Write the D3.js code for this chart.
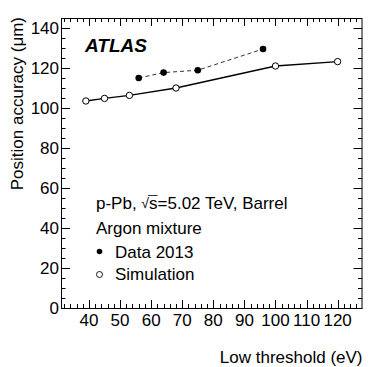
<!DOCTYPE html>
<html>
<head>
<meta charset="utf-8">
<script src="https://cdn.jsdelivr.net/npm/d3@7"></script>
<style>
  body { margin: 0; background: #fff; }
  text { font-family: "Liberation Sans", Arial, Helvetica, sans-serif; fill: #000; }
</style>
</head>
<body>
<script>
// values
var dataX = [56, 64, 75, 96]
var dataY = [115, 117.7, 118.9, 129.5]
var simX = [39, 45, 53, 68, 100, 120]
var simY = [103.5, 104.8, 106.3, 110, 121, 123.2]
var xTicks = [40, 50, 60, 70, 80, 90, 100, 110, 120]
var yTicks = [0, 20, 40, 60, 80, 100, 120, 140]

var width = 382, height = 367
var padL = 61, padR = 362.5, padT = 18, padB = 308

var svg = d3.select("body").append("svg").attr("width", width).attr("height", height)

var x = d3.scaleLinear().domain([31, 128]).range([padL, padR])
var y = d3.scaleLinear().domain([0, 145]).range([padB, padT])

// inward ticks, ROOT style, on all four sides
var xMinor = d3.range(32, 128, 2).filter(d => d % 10 != 0)
var yMinor = d3.range(0, 145, 5).filter(d => d % 20 != 0)

var g = svg.append("g").attr("stroke", "#000").attr("stroke-width", 1)

xTicks.concat(xMinor).forEach(function(d) {
  var len = d % 10 == 0 ? 8 : 4
  var px = Math.round(x(d)) + 0.5
  g.append("line").attr("x1", px).attr("x2", px).attr("y1", padB).attr("y2", padB - len)
  g.append("line").attr("x1", px).attr("x2", px).attr("y1", padT).attr("y2", padT + len)
})
yTicks.concat(yMinor).forEach(function(d) {
  var len = d % 20 == 0 ? 9 : 4.5
  var py = Math.round(y(d)) + 0.5
  g.append("line").attr("y1", py).attr("y2", py).attr("x1", padL).attr("x2", padL + len)
  g.append("line").attr("y1", py).attr("y2", py).attr("x1", padR).attr("x2", padR - len)
})

svg.append("rect")
  .attr("x", padL + 0.5).attr("y", padT + 0.5)
  .attr("width", padR - padL - 1).attr("height", padB - padT)
  .attr("fill", "none").attr("stroke", "#000").attr("stroke-width", 1)

// tick labels
svg.append("g").selectAll("text").data(xTicks).enter().append("text")
  .attr("x", d => x(d)).attr("y", 326)
  .attr("text-anchor", "middle").attr("font-size", 17)
  .text(d => d)

svg.append("g").selectAll("text").data(yTicks).enter().append("text")
  .attr("x", 59).attr("y", d => y(d) + 6)
  .attr("text-anchor", "end").attr("font-size", 17)
  .text(d => d)

// axis titles
svg.append("text")
  .attr("x", padR).attr("y", 363)
  .attr("text-anchor", "end").attr("font-size", 17)
  .text("Low threshold (eV)")

svg.append("text")
  .attr("transform", "translate(23,17) rotate(-90)")
  .attr("text-anchor", "end").attr("font-size", 17)
  .text("Position accuracy (\u03bcm)")

// series
var line = d3.line().x(d => x(d[0])).y(d => y(d[1]))

var simPts = d3.zip(simX, simY)
var dataPts = d3.zip(dataX, dataY)

svg.append("path").datum(simPts).attr("d", line)
  .attr("fill", "none").attr("stroke", "#000").attr("stroke-width", 1.3)

svg.append("path").datum(dataPts).attr("d", line)
  .attr("fill", "none").attr("stroke", "#333").attr("stroke-width", 1)
  .attr("stroke-dasharray", "4,3")

svg.append("g").selectAll("circle").data(simPts).enter().append("circle")
  .attr("cx", d => x(d[0])).attr("cy", d => y(d[1])).attr("r", 3.2)
  .attr("fill", "#fff").attr("stroke", "#000").attr("stroke-width", 1)

svg.append("g").selectAll("circle").data(dataPts).enter().append("circle")
  .attr("cx", d => x(d[0])).attr("cy", d => y(d[1])).attr("r", 3.3)
  .attr("fill", "#000")

// labels
svg.append("text").attr("x", 85).attr("y", 52)
  .attr("font-size", 19).attr("font-weight", "bold").attr("font-style", "italic")
  .text("ATLAS")

var t1 = svg.append("text").attr("x", 96).attr("y", 209).attr("font-size", 17)
t1.append("tspan").text("p-Pb, ")
var sq = t1.append("tspan").attr("font-size", 14).attr("dy", -1).text("\u221a")
var ss = t1.append("tspan").attr("font-size", 17).attr("dy", 1).text("s")
t1.append("tspan").text("=5.02 TeV, Barrel")

// overline of the square root
var sb = ss.node().getExtentOfChar(0)
var qb = sq.node().getExtentOfChar(0)
svg.append("line")
  .attr("x1", qb.x + qb.width - 1).attr("x2", sb.x + sb.width)
  .attr("y1", 195.5).attr("y2", 195.5)
  .attr("stroke", "#000").attr("stroke-width", 0.8)

svg.append("text").attr("x", 96).attr("y", 234).attr("font-size", 17).text("Argon mixture")

svg.append("circle").attr("cx", 99.5).attr("cy", 251.5).attr("r", 2.8).attr("fill", "#000")
svg.append("text").attr("x", 115).attr("y", 257.5).attr("font-size", 17).text("Data 2013")

svg.append("circle").attr("cx", 99.5).attr("cy", 274.5).attr("r", 3).attr("fill", "#fff")
  .attr("stroke", "#000").attr("stroke-width", 0.9)
svg.append("text").attr("x", 115).attr("y", 280).attr("font-size", 17).text("Simulation")
</script>
</body>
</html>
